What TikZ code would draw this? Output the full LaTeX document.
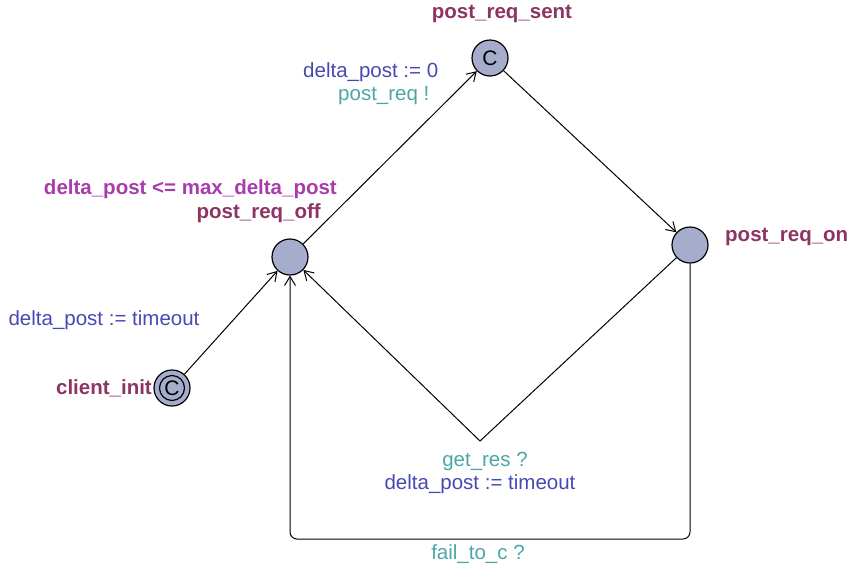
\documentclass[tikz,border=0pt]{standalone}
\usepackage{fontspec}
\setmainfont{Liberation Sans}
\usetikzlibrary{arrows.meta}
\definecolor{locname}{RGB}{140,52,100}
\definecolor{invcol}{RGB}{168,60,172}
\definecolor{synccol}{RGB}{76,166,166}
\definecolor{updcol}{RGB}{72,72,180}
\definecolor{locfill}{RGB}{166,173,204}
\begin{document}
\begin{tikzpicture}[x=1pt,y=-1pt,
  loc/.style={circle,draw=black,line width=1.2pt,fill=locfill,minimum size=36pt,inner sep=0pt,font=\fontsize{21}{22}\selectfont},
  lname/.style={text=locname,font=\fontsize{20.5}{24}\selectfont\bfseries,inner sep=0pt},
  inv/.style={text=invcol,font=\fontsize{20.5}{24}\selectfont\bfseries,inner sep=0pt},
  sync/.style={text=synccol,font=\fontsize{20.5}{24}\selectfont,inner sep=0pt},
  upd/.style={text=updcol,font=\fontsize{20.5}{24}\selectfont,inner sep=0pt},
  edge/.style={line width=1pt,-{Straight Barb[length=9pt,width=11pt,line width=1pt]}}]
\useasboundingbox (0,0) rectangle (850,568);
% locations
\node[loc] (sent) at (490,58) {C};
\node[loc] (off) at (290,257) {};
\node[loc] (on) at (690,245) {};
\node[loc] (init) at (172,388) {};
\draw[line width=1.2pt] (init.center) circle (12.5pt);
\node[font=\fontsize{21}{22}\selectfont,inner sep=0pt] (cinit) at (init.center) {C};
% names
\node[lname,anchor=center] (nsent) at (502,14) {post\_req\_sent};
\node[lname,anchor=east] (noff) at (321,213) {post\_req\_off};
\node[inv,anchor=east] (ioff) at (337,189) {delta\_post <= max\_delta\_post};
\node[lname,anchor=west] (non) at (725,237) {post\_req\_on};
\node[lname,anchor=east] (ninit) at (152,388) {client\_init};
% nails
\coordinate (n1) at (480,441);
\coordinate (c1) at (690,539);
\coordinate (c2) at (290,539);
% edges
\draw[edge] (init) -- (off);
\draw[edge] (off) -- (sent);
\draw[edge] (sent) -- (on);
\draw[edge] (on) -- (n1) -- (off);
\draw[edge,rounded corners=7pt] (on) -- (c1) -- (c2) -- (off);
% edge labels
\node[upd] (u1) at (104,320) {delta\_post := timeout};
\node[upd,anchor=west] (u2) at (303,72) {delta\_post := 0};
\node[sync,anchor=west] (s2) at (338,96) {post\_req !};
\node[sync] (s3) at (485,461) {get\_res ?};
\node[upd] (u3) at (480,484) {delta\_post := timeout};
\node[sync] (s4) at (478,554) {fail\_to\_c ?};
\end{tikzpicture}
\end{document}
